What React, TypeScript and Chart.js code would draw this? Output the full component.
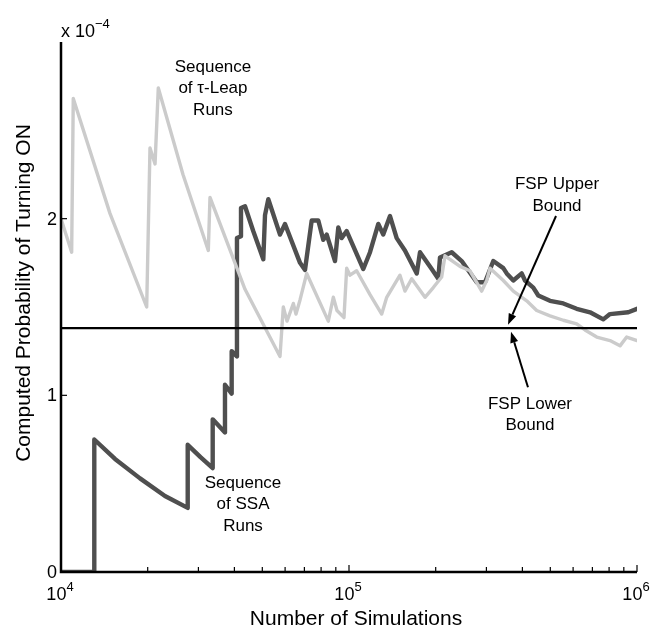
import React, { useEffect, useRef } from 'react';
import { Chart, registerables } from 'chart.js';

Chart.register(...registerables);

// ---- Data (y values in units of 1e-4) ----
const ssaN = [10000, 13050, 13050, 15400, 18810, 22960, 27540, 27540, 30500, 33630, 33630, 37100, 37100, 39140, 39140, 40830, 40830, 42170, 42170, 43550, 46500, 50400, 51090, 52460, 57600, 59950, 67600, 70350, 74210, 78240, 81430, 83680, 89410, 91800, 94340, 98170, 112100, 118300, 126400, 131500, 138800, 146400, 156400, 171900, 176400, 193700, 204200, 207000, 227300, 246200, 277600, 296700, 317000, 343400, 352900, 372000, 397800, 408400, 436400, 454200, 498800, 554800, 617400, 686900, 763800, 805800, 932900, 1000000];
const ssaP = [0, 0, 0.75, 0.64, 0.53, 0.43, 0.363, 0.72, 0.65, 0.588, 0.864, 0.79, 1.06, 1.01, 1.25, 1.22, 1.89, 1.9, 2.06, 2.07, 1.93, 1.77, 2.02, 2.11, 1.91, 1.97, 1.75, 1.71, 1.99, 1.99, 1.88, 1.91, 1.76, 1.95, 1.89, 1.93, 1.715, 1.81, 1.97, 1.91, 2.015, 1.89, 1.82, 1.69, 1.81, 1.715, 1.66, 1.78, 1.81, 1.76, 1.64, 1.64, 1.76, 1.72, 1.69, 1.65, 1.69, 1.65, 1.61, 1.565, 1.535, 1.52, 1.49, 1.47, 1.43, 1.46, 1.47, 1.49];

const tauN = [10000, 10890, 11030, 14790, 19840, 20090, 20370, 21210, 21770, 26520, 32470, 32910, 43550, 57600, 59140, 60920, 64080, 65460, 67600, 71310, 84750, 88210, 90840, 96070, 98170, 100800, 106300, 118300, 129900, 135200, 150300, 156400, 165100, 183600, 196200, 209800, 215400, 242900, 263100, 288900, 300700, 308800, 343400, 372000, 414000, 448400, 498800, 554800, 617400, 659800, 724700, 805800, 873000, 920800, 1000000];
const tauP = [2.0, 1.81, 2.68, 2.03, 1.5, 1.93, 2.4, 2.31, 2.74, 2.25, 1.82, 2.12, 1.6, 1.22, 1.5, 1.42, 1.52, 1.46, 1.54, 1.69, 1.42, 1.555, 1.48, 1.44, 1.72, 1.68, 1.705, 1.57, 1.46, 1.555, 1.68, 1.59, 1.66, 1.555, 1.61, 1.67, 1.79, 1.73, 1.705, 1.59, 1.65, 1.72, 1.65, 1.59, 1.535, 1.48, 1.45, 1.425, 1.405, 1.37, 1.33, 1.31, 1.28, 1.33, 1.31];

const boundN = [10000, 1000000];
const fspUpper = [1.383, 1.383];
const fspLower = [1.378, 1.378];

const yTicks = [0, 1, 2];
const xTickExps = [4, 5, 6];
const yExponent = '\u22124';

const xTitle = 'Number of Simulations';
const yTitle = 'Computed Probability of Turning ON';

// annotation text blocks: lines, centre N, centre value
const labels: { lines: string[]; n: number; v: number }[] = [
  { lines: ['Sequence', 'of \u03C4-Leap', 'Runs'], n: 33700, v: 2.736 },
  { lines: ['Sequence', 'of SSA', 'Runs'], n: 42860, v: 0.381 },
  { lines: ['FSP Upper', 'Bound'], n: 527500, v: 2.133 },
  { lines: ['FSP Lower', 'Bound'], n: 425000, v: 0.891 },
];
const arrows: { n0: number; v0: number; n1: number; v1: number }[] = [
  { n0: 523400, v0: 2.015, n1: 356500, v1: 1.40 },
  { n0: 418200, v0: 1.046, n1: 365200, v1: 1.36 },
];

const FONT = '"Liberation Sans", Arial, Helvetica, sans-serif';

const toXY = (xs: number[], ys: number[]) => xs.map((x, i) => ({ x, y: ys[i] }));

const overlay = {
  id: 'overlay',
  afterDraw(chart: any) {
    const ctx = chart.ctx as CanvasRenderingContext2D;
    const xs = chart.scales.x;
    const ys = chart.scales.y;
    const a = chart.chartArea;
    ctx.save();
    ctx.strokeStyle = '#000';
    ctx.fillStyle = '#000';
    // axes
    ctx.lineWidth = 2.5;
    ctx.beginPath();
    ctx.moveTo(a.left, a.top);
    ctx.lineTo(a.left, a.bottom);
    ctx.lineTo(a.right, a.bottom);
    ctx.stroke();
    // y ticks
    ctx.lineWidth = 1.2;
    ctx.font = `18px ${FONT}`;
    ctx.textAlign = 'right';
    ctx.textBaseline = 'middle';
    for (const v of yTicks) {
      const py = ys.getPixelForValue(v);
      ctx.beginPath();
      ctx.moveTo(a.left, py);
      ctx.lineTo(a.left + 6, py);
      ctx.stroke();
      ctx.fillText(String(v), a.left - 4, py + 1);
    }
    // x ticks (log, inward)
    for (let d = xTickExps[0]; d <= xTickExps[xTickExps.length - 1]; d++) {
      for (let m = 1; m <= 9; m++) {
        const val = m * Math.pow(10, d);
        if (val > xs.max * 1.0001) break;
        const px = xs.getPixelForValue(val);
        const len = m === 1 ? 7 : 5;
        ctx.beginPath();
        ctx.moveTo(px, a.bottom);
        ctx.lineTo(px, a.bottom - len);
        ctx.stroke();
      }
    }
    // x tick labels 10^n
    for (const e of xTickExps) {
      const px = xs.getPixelForValue(Math.pow(10, e));
      ctx.font = `18px ${FONT}`;
      const wb = ctx.measureText('10').width;
      ctx.font = `13px ${FONT}`;
      const ws = ctx.measureText(String(e)).width;
      const x0 = px - (wb + ws) / 2 - 1;
      ctx.textAlign = 'left';
      ctx.textBaseline = 'alphabetic';
      ctx.font = `18px ${FONT}`;
      ctx.fillText('10', x0, a.bottom + 28);
      ctx.font = `13px ${FONT}`;
      ctx.fillText(String(e), x0 + wb, a.bottom + 19);
    }
    // exponent label
    ctx.font = `18px ${FONT}`;
    ctx.textAlign = 'left';
    ctx.fillText('x 10', a.left, a.top - 5);
    const w10 = ctx.measureText('x 10').width;
    ctx.font = `13px ${FONT}`;
    ctx.fillText(yExponent, a.left + w10, a.top - 14);
    // titles
    ctx.font = `21px ${FONT}`;
    ctx.textAlign = 'center';
    ctx.textBaseline = 'middle';
    ctx.fillText(xTitle, (a.left + a.right) / 2 + 7, a.bottom + 47);
    ctx.save();
    ctx.translate(24, (a.top + a.bottom) / 2 - 14);
    ctx.rotate(-Math.PI / 2);
    ctx.fillText(yTitle, 0, 0);
    ctx.restore();
    // annotations
    ctx.font = `17px ${FONT}`;
    for (const l of labels) {
      const cx = xs.getPixelForValue(l.n);
      const cy = ys.getPixelForValue(l.v);
      const lh = 21.5;
      const y0 = cy - ((l.lines.length - 1) * lh) / 2;
      l.lines.forEach((t, i) => ctx.fillText(t, cx, y0 + i * lh));
    }
    // arrows
    ctx.lineWidth = 2;
    for (const ar of arrows) {
      const x0 = xs.getPixelForValue(ar.n0);
      const y0 = ys.getPixelForValue(ar.v0);
      const x1 = xs.getPixelForValue(ar.n1);
      const y1 = ys.getPixelForValue(ar.v1);
      const ang = Math.atan2(y1 - y0, x1 - x0);
      const hl = 11, hw = 4;
      const bx = x1 - hl * Math.cos(ang);
      const by = y1 - hl * Math.sin(ang);
      ctx.beginPath();
      ctx.moveTo(x0, y0);
      ctx.lineTo(bx, by);
      ctx.stroke();
      ctx.beginPath();
      ctx.moveTo(x1, y1);
      ctx.lineTo(bx + hw * Math.sin(ang), by - hw * Math.cos(ang));
      ctx.lineTo(bx - hw * Math.sin(ang), by + hw * Math.cos(ang));
      ctx.closePath();
      ctx.fill();
    }
    ctx.restore();
  },
};

export default function App() {
  const ref = useRef<HTMLCanvasElement | null>(null);
  useEffect(() => {
    if (!ref.current) return;
    const chart = new Chart(ref.current, {
      type: 'line',
      data: {
        datasets: [
          { label: 'FSP Upper Bound', data: toXY(boundN, fspUpper), borderColor: '#000', borderWidth: 1.4, pointRadius: 0 },
          { label: 'FSP Lower Bound', data: toXY(boundN, fspLower), borderColor: '#000', borderWidth: 1.4, pointRadius: 0 },
          { label: 'Sequence of \u03C4-Leap Runs', data: toXY(tauN, tauP), borderColor: '#cbcbcb', borderWidth: 3.4, pointRadius: 0, borderJoinStyle: 'round', borderCapStyle: 'round' },
          { label: 'Sequence of SSA Runs', data: toXY(ssaN, ssaP), borderColor: '#4f4f4f', borderWidth: 4.4, pointRadius: 0, borderJoinStyle: 'round', borderCapStyle: 'round' },
        ],
      } as any,
      options: {
        animation: false,
        responsive: true,
        maintainAspectRatio: false,
        events: [],
        layout: { padding: { left: 61, top: 42, right: 17, bottom: 57 } },
        elements: { line: { tension: 0 } },
        plugins: { legend: { display: false }, tooltip: { enabled: false } },
        scales: {
          x: { type: 'logarithmic', min: 10000, max: 1000000, display: false },
          y: { type: 'linear', min: 0, max: 3, display: false },
        },
      } as any,
      plugins: [overlay],
    });
    return () => chart.destroy();
  }, []);
  return (
    <div style={{ position: 'absolute', left: 0, top: 0, width: 654, height: 629, background: '#fff' }}>
      <canvas ref={ref} />
    </div>
  );
}
